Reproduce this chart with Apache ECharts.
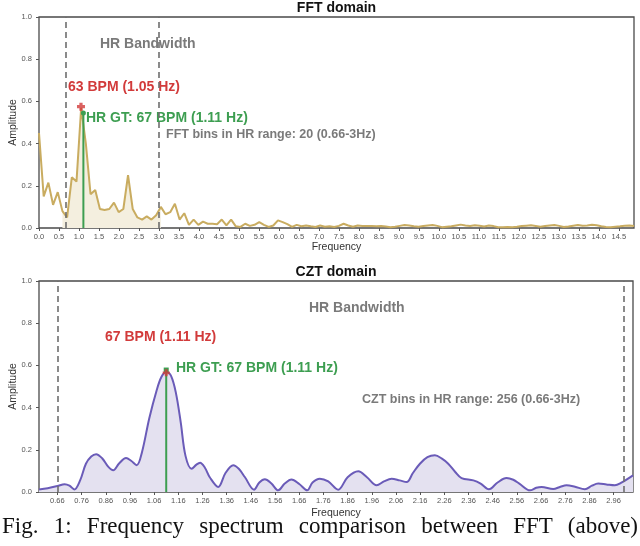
<!DOCTYPE html>
<html>
<head>
<meta charset="utf-8">
<script src="https://cdn.jsdelivr.net/npm/echarts@6/dist/echarts.min.js"></script>
<style>
    html, body { margin: 0; padding: 0; background: #fff; }
    #wrap { position: relative; width: 640px; height: 546px; overflow: hidden; }
    #chart { position: absolute; left: 0; top: 0; width: 640px; height: 546px; }
    #caption {
        position: absolute; left: 2px; top: 514px; width: 636px;
        font-family: "Liberation Serif", serif; font-size: 23px; line-height: 24px;
        color: #111; text-align: justify; text-align-last: justify; white-space: nowrap;
    }
</style>
</head>
<body>
<div id="wrap">
    <div id="chart"></div>
    <div id="caption">Fig. 1: Frequency spectrum comparison between FFT (above)</div>
</div>
<script>
// FFT: 128 bins, 30 fps / 256 samples
const fftBinHz = 30 / 256;
const fftAmp = [
    0.45, 0.15, 0.215, 0.11, 0.17, 0.08, 0.05, 0.24, 0.22, 0.57,
    0.40, 0.16, 0.18, 0.09, 0.085, 0.09, 0.12, 0.075, 0.09, 0.25,
    0.09, 0.05, 0.04, 0.055, 0.04, 0.06, 0.10, 0.065, 0.075, 0.115,
    0.04, 0.07, 0.015, 0.04, 0.015, 0.03, 0.02, 0.02, 0.018, 0.04,
    0.012, 0.04, 0.008, 0.005, 0.02, 0.01, 0.015, 0.028, 0.015, 0.005,
    0.012, 0.036, 0.028, 0.018, 0.005, 0.015, 0.008, 0.012, 0.008, 0.005,
    0.012, 0.006, 0.008, 0.005, 0.01, 0.02, 0.012, 0.006, 0.012, 0.01,
    0.01, 0.009, 0.008, 0.01, 0.007, 0.004, 0.006, 0.01, 0.014, 0.012,
    0.008, 0.006, 0.009, 0.012, 0.014, 0.01, 0.004, 0.006, 0.008, 0.012,
    0.016, 0.012, 0.01, 0.013, 0.011, 0.007, 0.012, 0.009, 0.004, 0.003,
    0.005, 0.004, 0.006, 0.009, 0.011, 0.013, 0.01, 0.006, 0.009, 0.012,
    0.014, 0.01, 0.005, 0.007, 0.011, 0.014, 0.011, 0.012, 0.015, 0.013,
    0.008, 0.005, 0.004, 0.006, 0.008, 0.011, 0.012, 0.01
];
const fftFillBins = [5, 26]; // shaded bins around HR band
const fftTicks = [0.0, 0.5, 1.0, 1.5, 2.0, 2.5, 3.0, 3.5, 4.0, 4.5, 5.0, 5.5, 6.0, 6.5, 7.0,
    7.5, 8.0, 8.5, 9.0, 9.5, 10.0, 10.5, 11.0, 11.5, 12.0, 12.5, 13.0, 13.5, 14.0, 14.5];

// CZT: curve
const cztHz = [
    0.584, 0.62, 0.66, 0.69, 0.71, 0.73, 0.754, 0.778, 0.80, 0.82,
    0.845, 0.87, 0.891, 0.915, 0.944, 0.965, 0.988, 1.01, 1.04, 1.07,
    1.09, 1.11, 1.13, 1.15, 1.17, 1.19, 1.215, 1.235, 1.25, 1.27,
    1.29, 1.325, 1.355, 1.387, 1.41, 1.435, 1.473, 1.495, 1.518, 1.545,
    1.573, 1.60, 1.628, 1.66, 1.693, 1.715, 1.745, 1.78, 1.821, 1.86,
    1.904, 1.94, 1.98, 2.01, 2.042, 2.075, 2.104, 2.13, 2.159, 2.19,
    2.221, 2.25, 2.276, 2.305, 2.331, 2.38, 2.41, 2.444, 2.48, 2.517,
    2.545, 2.57, 2.614, 2.64, 2.662, 2.71, 2.74, 2.765, 2.80, 2.841,
    2.87, 2.896, 2.93, 2.965, 2.99, 3.04
];
const cztAmp = [
    0.012, 0.018, 0.028, 0.037, 0.03, 0.012, 0.055, 0.134, 0.168, 0.179,
    0.16, 0.12, 0.103, 0.135, 0.161, 0.148, 0.127, 0.19, 0.35, 0.48,
    0.545, 0.57, 0.55, 0.47, 0.33, 0.17, 0.11, 0.13, 0.139, 0.115,
    0.07, 0.024, 0.09, 0.127, 0.11, 0.071, 0.011, 0.045, 0.06, 0.04,
    0.008, 0.04, 0.059, 0.038, 0.008, 0.045, 0.063, 0.05, 0.011, 0.07,
    0.098, 0.07, 0.032, 0.05, 0.063, 0.055, 0.047, 0.09, 0.134, 0.165,
    0.174, 0.158, 0.134, 0.095, 0.066, 0.055, 0.04, 0.013, 0.045, 0.066,
    0.058, 0.04, 0.008, 0.02, 0.024, 0.014, 0.025, 0.032, 0.025, 0.013,
    0.03, 0.04, 0.036, 0.032, 0.043, 0.079
];
const cztTicks = [0.66, 0.76, 0.86, 0.96, 1.06, 1.16, 1.26, 1.36, 1.46, 1.56, 1.66, 1.76,
    1.86, 1.96, 2.06, 2.16, 2.26, 2.36, 2.46, 2.56, 2.66, 2.76, 2.86, 2.96];

const hrBand = [0.66, 3.0];
const gtHz = 1.11;
const fftPeak = [1.05, 0.575];
const fftGtAmp = 0.545;
const cztPeak = [1.11, 0.565];
const cztGtAmp = 0.578;
const yTicks = [0, 0.2, 0.4, 0.6, 0.8, 1.0];

const FONT = '"Liberation Sans", Arial, sans-serif';
const GOLD = '#c9ac60';
const PURPLE = '#6a5bb8';
const GREEN = '#3d9e51';
const RED = '#d23b3b';
const GRAY_TXT = '#7a7a7a';
const PLUS = 'path://M3,0h4v3h3v4h-3v3h-4v-3h-3v-4h3z';

const fftData = fftAmp.map((v, k) => [k * fftBinHz, v]);
const fftFill = fftAmp.map((v, k) => (k >= fftFillBins[0] && k <= fftFillBins[1]) ? [k * fftBinHz, v] : [k * fftBinHz, null]);
const cztData = cztHz.map((f, i) => [f, cztAmp[i]]);

function xAxisCfg(gridIndex, min, max, ticks, digits, gap) {
    return {
        type: 'value', gridIndex, min, max,
        name: 'Frequency', nameLocation: 'middle', nameGap: gap,
        nameTextStyle: { fontFamily: FONT, fontSize: 10.5, color: '#333' },
        axisLine: { show: false },
        splitLine: { show: false },
        axisTick: { show: true, customValues: ticks, length: 3, lineStyle: { color: '#555' } },
        axisLabel: {
            customValues: ticks, fontFamily: FONT, fontSize: 7.5, color: '#555', margin: 5,
            formatter: v => Number(v).toFixed(digits)
        }
    };
}
function yAxisCfg(gridIndex) {
    return {
        type: 'value', gridIndex, min: 0, max: 1, interval: 0.2,
        name: 'Amplitude', nameLocation: 'middle', nameGap: 20, nameMoveOverlap: false,
        nameTextStyle: { fontFamily: FONT, fontSize: 10.5, color: '#333' },
        axisLine: { show: false },
        splitLine: { show: false },
        axisTick: { show: true, length: 3, lineStyle: { color: '#555' } },
        axisLabel: {
            customValues: yTicks, fontFamily: FONT, fontSize: 7.5, color: '#555', margin: 7,
            formatter: v => Number(v).toFixed(1)
        }
    };
}
function bandLines() {
    return {
        silent: true, symbol: 'none', label: { show: false },
        lineStyle: { type: [6, 4], color: '#6e6e6e', width: 1.6 },
        data: hrBand.map(f => ({ xAxis: f }))
    };
}
function txt(x, y, text, color, size, align) {
    return {
        type: 'text', x, y, silent: true,
        style: {
            text, fill: color, font: 'bold ' + size + 'px ' + FONT,
            align: align || 'left', verticalAlign: 'middle'
        }
    };
}

const chart = echarts.init(document.getElementById('chart'), null, { renderer: 'canvas' });
chart.setOption({
    animation: false,
    grid: [
        { left: 39, top: 17, width: 595, height: 211, outerBoundsMode: 'none', containLabel: false,
          show: true, borderColor: '#4a4a4a', borderWidth: 1.3 },
        { left: 39, top: 281, width: 594, height: 211, outerBoundsMode: 'none', containLabel: false,
          show: true, borderColor: '#4a4a4a', borderWidth: 1.3 }
    ],
    xAxis: [xAxisCfg(0, 0, 14.88, fftTicks, 1, 14), xAxisCfg(1, 0.584, 3.04, cztTicks, 2, 16)],
    yAxis: [yAxisCfg(0), yAxisCfg(1)],
    series: [
        {
            type: 'line', xAxisIndex: 0, yAxisIndex: 0, data: fftFill, showSymbol: false,
            lineStyle: { width: 0 }, areaStyle: { color: '#f4efdf', opacity: 1 }, z: 1, silent: true
        },
        {
            type: 'line', xAxisIndex: 0, yAxisIndex: 0, data: fftData, showSymbol: false,
            lineStyle: { color: GOLD, width: 2 }, itemStyle: { color: GOLD }, z: 3,
            markLine: bandLines()
        },
        {
            type: 'line', xAxisIndex: 0, yAxisIndex: 0, z: 4,
            data: [{ value: [gtHz, 0], symbol: 'none' }, { value: [gtHz, fftGtAmp], symbol: 'circle', symbolSize: 5 }],
            lineStyle: { color: GREEN, width: 2 }, itemStyle: { color: GREEN }
        },
        {
            type: 'scatter', xAxisIndex: 0, yAxisIndex: 0, z: 5, data: [fftPeak],
            symbol: PLUS, symbolSize: 8, itemStyle: { color: RED }
        },
        {
            type: 'line', xAxisIndex: 1, yAxisIndex: 1, data: cztData, showSymbol: false, smooth: 0.35,
            lineStyle: { color: PURPLE, width: 2 }, itemStyle: { color: PURPLE },
            areaStyle: { color: '#e4e1f0', opacity: 1 }, z: 3,
            markLine: bandLines()
        },
        {
            type: 'line', xAxisIndex: 1, yAxisIndex: 1, z: 4,
            data: [{ value: [gtHz, 0], symbol: 'none' }, { value: [gtHz, cztGtAmp], symbol: 'rect', symbolSize: 5 }],
            lineStyle: { color: GREEN, width: 2 }, itemStyle: { color: GREEN }
        },
        {
            type: 'scatter', xAxisIndex: 1, yAxisIndex: 1, z: 5, data: [cztPeak],
            symbol: PLUS, symbolSize: 7, itemStyle: { color: RED }
        }
    ],
    graphic: [
        txt(336.5, 8, 'FFT domain', '#111', 14, 'center'),
        txt(336, 272, 'CZT domain', '#111', 14, 'center'),
        // FFT panel notes
        txt(100, 44, 'HR Bandwidth', GRAY_TXT, 14),
        txt(68, 87, '63 BPM (1.05 Hz)', RED, 14),
        txt(86, 118, 'HR GT: 67 BPM (1.11 Hz)', GREEN, 14),
        txt(166, 135, 'FFT bins in HR range: 20 (0.66-3Hz)', GRAY_TXT, 12.5),
        // CZT panel notes
        txt(309, 308, 'HR Bandwidth', GRAY_TXT, 14),
        txt(105, 337, '67 BPM (1.11 Hz)', RED, 14),
        txt(176, 368, 'HR GT: 67 BPM (1.11 Hz)', GREEN, 14),
        txt(362, 400, 'CZT bins in HR range: 256 (0.66-3Hz)', GRAY_TXT, 12.5)
    ]
});
</script>
</body>
</html>
